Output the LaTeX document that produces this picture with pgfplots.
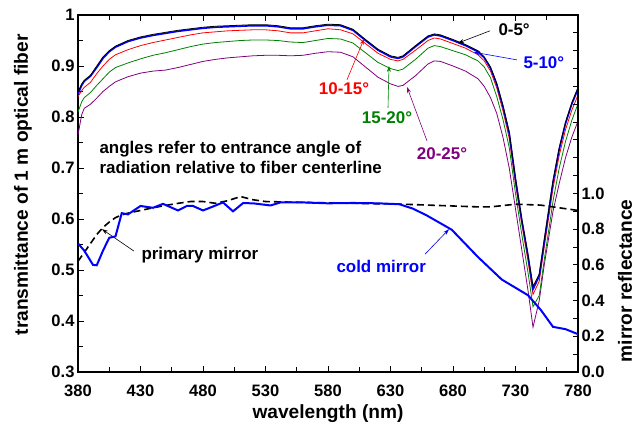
\documentclass[border=0pt]{standalone}
\usepackage{fontspec}
\setmainfont{Liberation Sans}
\usepackage{pgfplots}
\usepackage{pgfplotstable}
\pgfplotsset{compat=1.18}
\usetikzlibrary{arrows.meta}
\definecolor{cblue}{RGB}{0,0,255}
\definecolor{cred}{RGB}{255,0,0}
\definecolor{cgreen}{RGB}{0,128,0}
\definecolor{cpurple}{RGB}{128,0,128}
\newcommand{\tf}{\bfseries\fontsize{16.6}{20}\selectfont}
\newcommand{\af}{\bfseries\fontsize{17}{20}\selectfont}
\newcommand{\lf}{\bfseries\fontsize{19.2}{22}\selectfont}

% wl  k(0-5) b(5-10) r(10-15) g(15-20) p(20-25)
\pgfplotstableread{
wl k b r g p
380 0.850 0.845 0.840 0.810 0.765
383 0.865 0.862 0.852 0.830 0.805
385 0.872 0.870 0.858 0.838 0.817
390 0.882 0.880 0.868 0.848 0.825
395 0.900 0.897 0.885 0.862 0.837
400 0.918 0.915 0.900 0.875 0.850
405 0.930 0.928 0.913 0.888 0.860
410 0.939 0.937 0.922 0.897 0.869
420 0.950 0.948 0.932 0.906 0.879
430 0.957 0.955 0.940 0.914 0.886
440 0.962 0.960 0.946 0.921 0.890
450 0.966 0.964 0.951 0.926 0.892
460 0.970 0.968 0.956 0.932 0.897
470 0.973 0.971 0.961 0.938 0.903
480 0.976 0.974 0.965 0.943 0.909
490 0.978 0.976 0.967 0.946 0.913
500 0.979 0.977 0.969 0.948 0.916
510 0.980 0.978 0.970 0.950 0.918
520 0.981 0.979 0.971 0.951 0.920
530 0.981 0.979 0.971 0.951 0.921
540 0.979 0.977 0.969 0.950 0.921
550 0.975 0.973 0.965 0.947 0.920
560 0.975 0.973 0.965 0.946 0.921
570 0.979 0.977 0.969 0.950 0.925
580 0.982 0.980 0.973 0.954 0.928
590 0.981 0.979 0.971 0.953 0.927
600 0.972 0.970 0.963 0.945 0.918
610 0.952 0.950 0.944 0.926 0.898
620 0.933 0.931 0.925 0.907 0.878
630 0.920 0.918 0.913 0.895 0.865
636 0.917 0.915 0.910 0.891 0.860
640 0.920 0.918 0.913 0.894 0.862
650 0.940 0.938 0.931 0.913 0.881
660 0.959 0.957 0.950 0.935 0.904
665 0.963 0.961 0.955 0.940 0.910
670 0.961 0.959 0.953 0.938 0.909
680 0.952 0.950 0.944 0.930 0.900
690 0.942 0.940 0.935 0.922 0.890
700 0.930 0.928 0.922 0.910 0.875
705 0.918 0.916 0.910 0.898 0.860
710 0.898 0.896 0.890 0.877 0.838
715 0.866 0.864 0.857 0.840 0.807
720 0.822 0.820 0.812 0.795 0.760
725 0.770 0.768 0.758 0.740 0.700
730 0.680 0.678 0.668 0.650 0.620
735 0.600 0.598 0.590 0.570 0.540
740 0.530 0.528 0.518 0.495 0.460
744 0.468 0.462 0.452 0.428 0.388
749 0.492 0.488 0.478 0.450 0.440
753 0.560 0.555 0.545 0.520 0.510
757 0.625 0.622 0.610 0.585 0.570
760 0.675 0.672 0.660 0.635 0.615
765 0.740 0.737 0.725 0.700 0.670
770 0.790 0.787 0.775 0.752 0.720
775 0.828 0.825 0.813 0.793 0.760
780 0.858 0.855 0.843 0.826 0.792
}\fiber

\pgfplotstableread{
wl R
380 0.62
385 0.67
390 0.72
395 0.77
400 0.81
405 0.84
410 0.865
415 0.88
420 0.89
430 0.905
440 0.92
450 0.933
460 0.945
470 0.955
480 0.955
490 0.945
500 0.96
510 0.983
520 0.965
530 0.955
560 0.95
600 0.945
640 0.94
680 0.93
700 0.925
710 0.925
730 0.94
750 0.935
780 0.905
}\primary

\pgfplotstableread{
wl R
380 0.72
385 0.68
392 0.60
395 0.598
400 0.68
405 0.752
410 0.76
415 0.89
420 0.883
430 0.93
440 0.92
448 0.942
460 0.905
467 0.93
472 0.93
480 0.905
488 0.927
496 0.95
504 0.90
512 0.946
520 0.945
534 0.933
542 0.95
560 0.95
580 0.945
600 0.947
620 0.945
637 0.94
648 0.915
659 0.877
679 0.797
700 0.644
719 0.518
740 0.43
750 0.35
760 0.253
770 0.24
780 0.212
}\cold

\begin{document}
\begin{tikzpicture}
\useasboundingbox (-78bp,-52bp) rectangle (562bp,372bp);
\begin{axis}[
  at={(0,0)}, anchor=south west,
  scale only axis, width=500bp, height=357bp,
  xmin=380, xmax=780, ymin=0.3, ymax=1,
  axis line style={line width=1.6bp},
  tick align=inside,
  xtick pos=both, xticklabel pos=bottom, ytick pos=left,
  xtick={380,430,480,530,580,630,680,730,780},
  xticklabels={380,430,480,530,580,630,680,730,780},
  minor xtick={405,455,505,555,605,655,705,755},
  ytick={0.3,0.4,0.5,0.6,0.7,0.8,0.9,1},
  yticklabels={0.3,0.4,0.5,0.6,0.7,0.8,0.9,1},
  minor ytick={0.35,0.45,0.55,0.65,0.75,0.85,0.95},
  major tick length=6bp, minor tick length=5bp,
  every tick/.style={black, line width=0.9bp},
  ticklabel style={font=\tf},
  xticklabel style={yshift=-9bp},
  xlabel={wavelength (nm)},
  xlabel style={font=\lf, at={(axis description cs:0.5,-0.117)}, anchor=center},
  ylabel={transmittance of 1 m optical fiber},
  ylabel style={font=\lf, at={(axis description cs:-0.11,0.524)}, anchor=center},
  clip=true,
]
\addplot[cpurple, line width=0.8bp] table[x=wl,y=p] {\fiber};
\addplot[cgreen, line width=0.8bp] table[x=wl,y=g] {\fiber};
\addplot[cred, line width=0.8bp] table[x=wl,y=r] {\fiber};
\addplot[cblue, line width=1.6bp] table[x=wl,y=b] {\fiber};
\addplot[black, line width=0.8bp] table[x=wl,y=k] {\fiber};

% annotations
\node[anchor=west, font=\af, black] at (axis cs:713.6,0.971) {0-5°};
\draw[-{Stealth[length=6bp,width=4bp]}, black, line width=0.6bp] (axis cs:709.6,0.969) -- (axis cs:684,0.945);
\node[anchor=west, font=\af, cblue] at (axis cs:733.6,0.906) {5-10°};
\draw[-{Stealth[length=6bp,width=4bp]}, cblue, line width=0.6bp] (axis cs:731.2,0.912) -- (axis cs:696.8,0.927);
\node[anchor=center, font=\af, cred] at (axis cs:592.8,0.855) {10-15°};
\draw[-{Stealth[length=6bp,width=4bp]}, cred, line width=0.6bp] (axis cs:595.2,0.873) -- (axis cs:608.8,0.953);
\node[anchor=center, font=\af, cgreen] at (axis cs:627.2,0.798) {15-20°};
\draw[-{Stealth[length=6bp,width=4bp]}, cgreen, line width=0.6bp] (axis cs:628,0.818) -- (axis cs:628.8,0.900);
\node[anchor=center, font=\af, cpurple] at (axis cs:671.2,0.7275) {20-25°};
\draw[-{Stealth[length=6bp,width=4bp]}, cpurple, line width=0.6bp] (axis cs:659.2,0.753) -- (axis cs:643.2,0.859);
\node[anchor=west, align=left, font=\af, black] at (axis cs:394.4,0.7216) {angles refer to entrance angle of\\radiation relative to fiber centerline};
\node[anchor=west, font=\af, black] at (axis cs:428,0.529) {primary mirror};
\draw[-{Stealth[length=6bp,width=4bp]}, black, line width=0.6bp] (axis cs:424.8,0.537) -- (axis cs:399.2,0.580);
\node[anchor=west, font=\af, cblue] at (axis cs:584,0.506) {cold mirror};
\draw[-{Stealth[length=6bp,width=4bp]}, cblue, line width=0.6bp] (axis cs:657.6,0.531) -- (axis cs:676.8,0.580);
\end{axis}

\begin{axis}[
  at={(0,0)}, anchor=south west,
  scale only axis, width=500bp, height=357bp,
  xmin=380, xmax=780, ymin=0, ymax=2,
  axis x line=none, axis y line*=right,
  axis line style={line width=1.6bp},
  tick align=inside,
  ytick={0,0.1,0.2,0.3,0.4,0.5,0.6,0.7,0.8,0.9,1.0,1.1,1.2,1.3,1.4,1.5,1.6,1.7,1.8,1.9,2.0},
  yticklabels={0.0,,0.2,,0.4,,0.6,,0.8,,1.0,,,,,,,,,,},
  major tick length=5bp,
  every tick/.style={black, line width=0.9bp},
  ticklabel style={font=\tf},
  ylabel={mirror reflectance},
  ylabel style={font=\lf, at={(axis description cs:1.094,0.255)}, anchor=center, rotate=0},
  clip=true,
]
\addplot[black, dashed, dash pattern=on 7bp off 4bp, line width=1.6bp] table[x=wl,y=R] {\primary};
\addplot[cblue, line width=2bp] table[x=wl,y=R] {\cold};
\end{axis}
\end{tikzpicture}
\end{document}
